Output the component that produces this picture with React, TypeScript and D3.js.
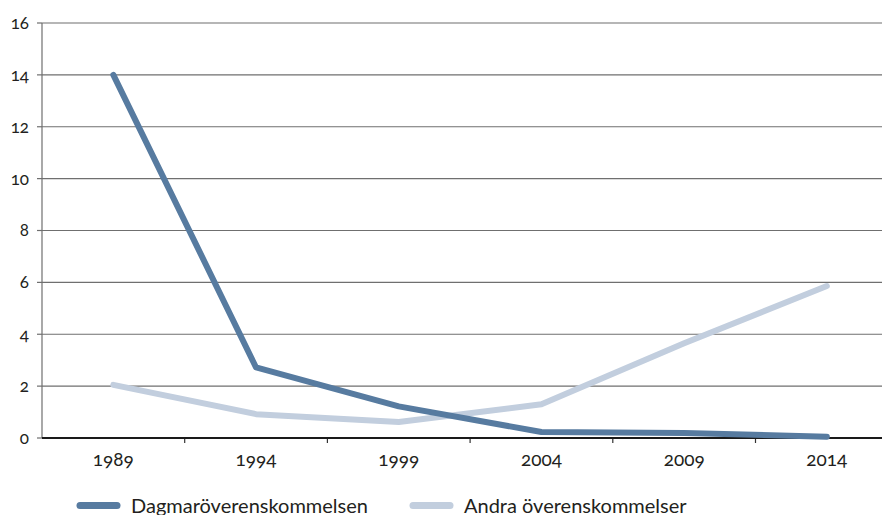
import React from "react";
import * as d3 from "d3";

const years = ["1989", "1994", "1999", "2004", "2009", "2014"];
const dagmar = [14.0, 2.72, 1.22, 0.23, 0.19, 0.05];
const andra = [2.05, 0.92, 0.62, 1.3, 3.65, 5.86];
const yTicks = [0, 2, 4, 6, 8, 10, 12, 14, 16];
const seriesNames = ["Dagmaröverenskommelsen", "Andra överenskommelser"];
const colors = ["#577ba0", "#c2cede"];

export default function App() {
  const width = 884,
    height = 515;
  const left = 42,
    top = 23,
    bottom = 438;

  const x = d3.scaleBand().domain(years).range([left, left + 6 * 142.7]).padding(0);
  const y = d3.scaleLinear().domain([0, 16]).range([bottom, top]);

  const line = d3
    .line<number>()
    .x((d, i) => (x(years[i]) as number) + x.bandwidth() / 2)
    .y((d) => y(d));

  const font = "Lato, 'Open Sans', sans-serif";

  return (
    <svg
      width={width}
      height={height}
      style={{ position: "absolute", left: 0, top: 0, fontFamily: font, fontVariantNumeric: "oldstyle-nums" }}
    >
      <rect width={width} height={height} fill="#fff" />
      {/* grid */}
      {yTicks
        .filter((t) => t > 0)
        .map((t) => (
          <line key={t} x1={left} x2={882} y1={y(t)} y2={y(t)} stroke="#6f6f6f" strokeWidth={1.2} />
        ))}
      {/* y axis */}
      <line x1={left} x2={left} y1={top} y2={bottom} stroke="#6f6f6f" strokeWidth={1.2} />
      {yTicks.map((t) => (
        <g key={t}>
          <line x1={37} x2={left} y1={y(t)} y2={y(t)} stroke="#6f6f6f" strokeWidth={1.2} />
          <text x={29} y={y(t)} dy="0.35em" textAnchor="end" fontSize={17} fill="#231f20">
            {t}
          </text>
        </g>
      ))}
      {/* x axis */}
      {years.map((yr, i) => (
        <g key={yr}>
          {i > 0 && (
            <line
              x1={x(yr) as number}
              x2={x(yr) as number}
              y1={bottom}
              y2={bottom + 5}
              stroke="#333"
              strokeWidth={1.2}
            />
          )}
          <text
            x={(x(yr) as number) + x.bandwidth() / 2}
            y={466}
            textAnchor="middle"
            fontSize={19}
            fill="#231f20"
          >
            {yr}
          </text>
        </g>
      ))}
      <line x1={left} x2={882} y1={bottom} y2={bottom} stroke="#1a1a1a" strokeWidth={2} />
      {/* lines */}
      <path d={line(andra) || ""} fill="none" stroke={colors[1]} strokeWidth={6} strokeLinejoin="round" strokeLinecap="round" />
      <path d={line(dagmar) || ""} fill="none" stroke={colors[0]} strokeWidth={6} strokeLinejoin="round" strokeLinecap="round" />
      {/* legend */}
      {seriesNames.map((name, i) => {
        const lx = i === 0 ? 80 : 413;
        return (
          <g key={name}>
            <line x1={lx} x2={lx + 37} y1={505.5} y2={505.5} stroke={colors[i]} strokeWidth={7} strokeLinecap="round" />
            <text x={lx + 51} y={505.5} dy="0.35em" fontSize={20} fill="#231f20">
              {name}
            </text>
          </g>
        );
      })}
    </svg>
  );
}
